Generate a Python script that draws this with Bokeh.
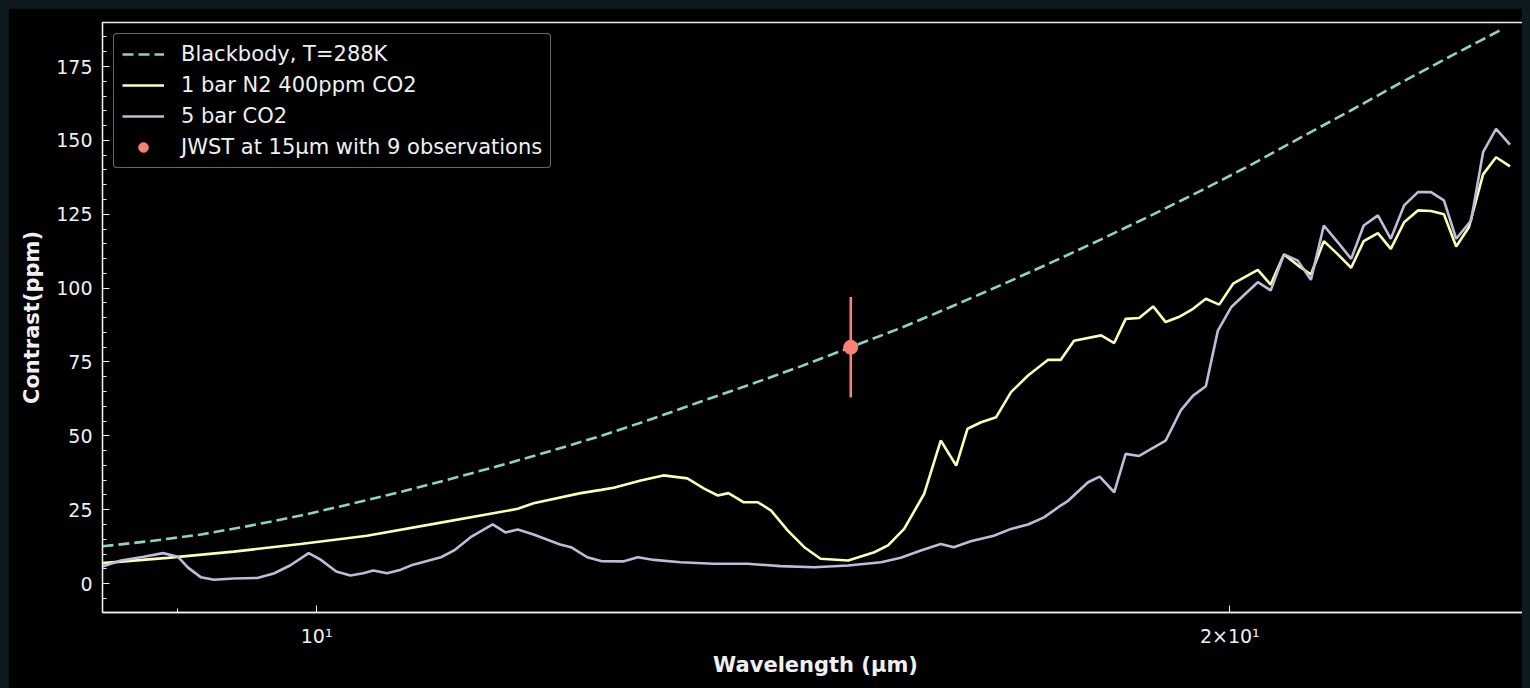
from bokeh.plotting import figure
from bokeh.models import Range1d, FixedTicker, ColumnDataSource, Legend, LegendItem
from bokeh.embed import file_html
from bokeh.resources import INLINE

# ---------------- data ----------------
bb_wl = [8.50, 8.82, 9.16, 9.51, 9.88, 10.26, 10.66, 11.07, 11.50, 11.95, 12.41,
         12.89, 13.38, 13.90, 14.44, 15.00, 15.58, 16.18, 16.81, 17.46, 18.14,
         18.84, 19.57, 20.33, 21.11, 21.93, 22.77, 23.65, 24.55]
bb_val = [12.6, 14.4, 16.6, 19.6, 23.0, 26.9, 31.0, 35.4, 40.0, 44.9, 50.0,
          55.6, 61.5, 67.4, 73.5, 80.0, 86.5, 93.6, 101.0, 108.6, 116.5,
          124.6, 133.0, 141.8, 151.0, 160.2, 169.5, 178.5, 187.2]

n2_wl = [8.50, 8.93, 9.39, 9.88, 10.39, 10.93, 11.65, 11.79, 12.22, 12.41,
         12.53, 12.79, 13.01, 13.25, 13.42, 13.56, 13.67, 13.83, 13.98, 14.12,
         14.30, 14.48, 14.66, 14.97, 15.27, 15.43, 15.62, 15.86, 16.06, 16.25,
         16.39, 16.56, 16.75, 16.94, 17.16, 17.42, 17.59, 17.77, 18.14, 18.32,
         18.48, 18.67, 18.87, 19.05, 19.24, 19.45, 19.64, 19.84, 20.05, 20.43,
         20.63, 20.84, 21.06, 21.27, 21.48, 21.71, 21.93, 22.14, 22.38, 22.60,
         22.83, 23.07, 23.30, 23.53, 23.75, 23.98, 24.24, 24.48, 24.74]
n2_val = [6.9, 8.7, 10.8, 13.4, 16.2, 20.2, 25.3, 27.2, 30.6, 31.7,
          32.4, 34.9, 36.6, 35.6, 32.1, 29.8, 30.6, 27.5, 27.5, 24.7,
          17.9, 12.3, 8.4, 7.8, 10.6, 12.9, 18.5, 30.4, 48.4, 39.9,
          52.4, 54.6, 56.3, 64.8, 70.4, 75.7, 75.7, 82.2, 84.0, 81.4,
          89.6, 89.9, 93.8, 88.5, 90.2, 93.0, 96.4, 94.4, 101.5, 106.2,
          101.2, 111.4, 107.7, 104.6, 115.9, 111.4, 106.9, 115.9, 118.6, 113.3,
          122.3, 126.3, 126.1, 125.0, 114.1, 120.6, 138.5, 144.3, 141.2]

co2_wl = [8.50, 8.62, 8.77, 8.90, 9.00, 9.07, 9.16, 9.25, 9.39, 9.56,
          9.68, 9.80, 9.94, 10.03, 10.15, 10.26, 10.36, 10.44, 10.55, 10.66,
          10.76, 10.99, 11.10, 11.24, 11.43, 11.54, 11.65, 11.79, 12.03, 12.13,
          12.28, 12.41, 12.62, 12.76, 12.92, 13.18, 13.52, 13.87, 14.22, 14.59,
          14.97, 15.35, 15.58, 15.82, 16.06, 16.22, 16.43, 16.72, 16.94, 17.16,
          17.37, 17.59, 17.69, 17.96, 18.12, 18.32, 18.48, 18.67, 19.05, 19.27,
          19.45, 19.64, 19.82, 20.02, 20.21, 20.43, 20.63, 20.84, 21.06, 21.27,
          21.48, 21.71, 21.93, 22.14, 22.38, 22.60, 22.83, 23.07, 23.30, 23.53,
          23.75, 24.02, 24.24, 24.48, 24.74]
co2_val = [5.8, 7.8, 9.1, 10.3, 9.1, 5.4, 2.1, 1.3, 1.7, 1.9,
           3.4, 6.1, 10.3, 8.1, 4.1, 2.7, 3.5, 4.4, 3.5, 4.7,
           6.4, 8.9, 11.2, 15.7, 20.0, 17.3, 18.3, 16.6, 13.2, 12.3,
           8.9, 7.6, 7.5, 8.9, 8.0, 7.2, 6.7, 6.7, 5.9, 5.5,
           6.1, 7.2, 8.7, 11.2, 13.4, 12.3, 14.3, 16.2, 18.5, 20.0,
           22.4, 26.4, 28.0, 34.3, 36.2, 30.9, 43.9, 43.2, 48.4, 58.6,
           63.6, 66.8, 85.6, 93.5, 97.5, 102.0, 99.2, 111.4, 109.3, 102.8,
           121.2, 115.5, 109.9, 121.2, 124.6, 116.7, 128.0, 132.5, 132.5, 129.7,
           116.7, 122.9, 146.0, 153.9, 148.6]

jwst_wl = [15.0]
jwst_val = [80.0]
jwst_err = [17.0]

x_ticks = [10, 20]
x_tick_labels = ["10\u00b9", "2\u00d710\u00b9"]
x_minor = [9]
y_ticks = [0, 25, 50, 75, 100, 125, 150, 175]
y_minor = [-5, 5, 10, 15, 20, 30, 35, 40, 45, 55, 60, 65, 70, 80, 85, 90, 95,
           105, 110, 115, 120, 130, 135, 140, 145, 155, 160, 165, 170, 180, 185]

labels = ["Blackbody, T=288K", "1 bar N2 400ppm CO2", "5 bar CO2",
          "JWST at 15\u00b5m with 9 observations"]
colors = ["#8dd3c7", "#feffb3", "#bfbbd9", "#fa8174"]

FONT = "DejaVu Sans"
FG = "#f0f0f0"
LW = 2.6

p = figure(width=1522, height=680, x_axis_type="log",
           x_range=Range1d(8.5, 25.09), y_range=Range1d(-9.8, 189.9),
           output_backend="svg", toolbar_location=None,
           background_fill_color="black", border_fill_color="black",
           min_border_left=94, min_border_right=2, min_border_top=14,
           min_border_bottom=76)
p.grid.visible = False
p.outline_line_color = FG
p.outline_line_width = 1.3

r_bb = p.line(bb_wl, bb_val, line_color=colors[0], line_width=LW, line_dash="11 5")
r_n2 = p.line(n2_wl, n2_val, line_color=colors[1], line_width=LW)
r_co2 = p.line(co2_wl, co2_val, line_color=colors[2], line_width=LW)

src = ColumnDataSource(dict(
    x=jwst_wl, y=jwst_val,
    lo=[v - e for v, e in zip(jwst_val, jwst_err)],
    hi=[v + e for v, e in zip(jwst_val, jwst_err)]))
p.segment(x0="x", y0="lo", x1="x", y1="hi", source=src,
          line_color=colors[3], line_width=LW)
r_jw = p.scatter("x", "y", source=src, size=14, fill_color=colors[3],
                 line_color=colors[3])

# axes
xa = p.xaxis[0]
xa.ticker = FixedTicker(ticks=x_ticks, minor_ticks=x_minor)
xa.major_label_overrides = {t: l for t, l in zip(x_ticks, x_tick_labels)}
ya = p.yaxis[0]
ya.ticker = FixedTicker(ticks=y_ticks, minor_ticks=y_minor)

for ax in (xa, ya):
    ax.axis_line_color = FG
    ax.axis_line_width = 1.3
    ax.major_tick_line_color = FG
    ax.minor_tick_line_color = FG
    ax.major_tick_in = 7
    ax.major_tick_out = 0
    ax.minor_tick_in = 4
    ax.minor_tick_out = 0
    ax.major_label_text_color = FG
    ax.major_label_text_font = FONT
    ax.major_label_text_font_size = "19px"
    ax.axis_label_text_color = FG
    ax.axis_label_text_font = FONT
    ax.axis_label_text_font_size = "21px"
    ax.axis_label_text_font_style = "bold"

xa.axis_label = "Wavelength (\u00b5m)"
xa.major_label_standoff = 12
xa.axis_label_standoff = 3
ya.axis_label = "Contrast(ppm)"
ya.major_label_standoff = 10
ya.axis_label_standoff = 9

legend = Legend(items=[
    LegendItem(label=labels[0], renderers=[r_bb]),
    LegendItem(label=labels[1], renderers=[r_n2]),
    LegendItem(label=labels[2], renderers=[r_co2]),
    LegendItem(label=labels[3], renderers=[r_jw]),
], location="top_left")
legend.label_text_font = FONT
legend.label_text_font_size = "21px"
legend.label_text_color = FG
legend.background_fill_color = "black"
legend.background_fill_alpha = 0.8
legend.border_line_color = "#cccccc"
legend.border_line_width = 1.3
if "border_radius" in legend.properties():
    legend.border_radius = 4
legend.margin = 11
legend.padding = 8
legend.spacing = 7
legend.glyph_width = 42
legend.glyph_height = 24
legend.label_height = 24
legend.label_standoff = 17
p.add_layout(legend)

html = file_html(p, INLINE, title="Contrast")
html = html.replace(
    "</head>",
    "<style>html{background:#0e1a20;overflow:hidden;}"
    "body{background:#0e1a20;margin:8px !important;padding:0 !important;overflow:hidden;}</style>\n</head>", 1)
open("out.html", "w").write(html)
